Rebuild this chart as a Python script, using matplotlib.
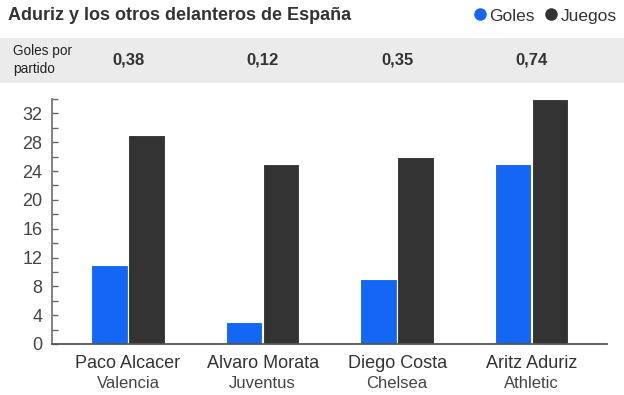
import numpy as np
import matplotlib
matplotlib.use("Agg")
import matplotlib.pyplot as plt
from matplotlib.patches import Rectangle
from matplotlib.lines import Line2D

plt.rcParams['font.family'] = ['Liberation Sans', 'DejaVu Sans']

# datos
jugadores = ["Paco Alcacer", "Alvaro Morata", "Diego Costa", "Aritz Aduriz"]
equipos = ["Valencia", "Juventus", "Chelsea", "Athletic"]
goles = [11, 3, 9, 25]
juegos = [29, 25, 26, 34]
goles_por_partido = ["0,38", "0,12", "0,35", "0,74"]

azul = "#1466f5"
negro = "#333333"
gris_txt = "#333333"

fig = plt.figure(figsize=(6.24, 3.95), dpi=100)
fig.patch.set_facecolor("white")

# franja gris de goles por partido
fig.patches.append(Rectangle((0, 1 - 83 / 395), 1, 45 / 395, transform=fig.transFigure,
                             facecolor="#ebebeb", edgecolor="none", zorder=-1))

ax = fig.add_axes([52 / 624, 1 - 344 / 395, 555 / 624, 245 / 395])

x = np.arange(len(jugadores))
ancho = 0.27
desp = 0.1375
ax.bar(x - desp, goles, ancho, color=azul, edgecolor="white", linewidth=0.8, zorder=2)
ax.bar(x + desp, juegos, ancho, color=negro, edgecolor="white", linewidth=0.8, zorder=2)

ax.set_xlim(-0.565, 3.56)
ax.set_ylim(0, 34)
ax.set_yticks(np.arange(0, 33, 4))
ax.set_yticks(np.arange(0, 35, 2), minor=True)
ax.tick_params(axis="y", which="both", direction="in", length=4, width=1, color="#666666",
               labelsize=13, labelcolor="#444444", pad=7)
ax.set_xticks(x)
ax.set_xticklabels(jugadores)
ax.tick_params(axis="x", length=0, labelsize=13, labelcolor=gris_txt, pad=8)

for s in ["top", "right"]:
    ax.spines[s].set_visible(False)
ax.spines["left"].set_color("#777777")
ax.spines["left"].set_linewidth(1.3)
ax.spines["bottom"].set_color("#555555")
ax.spines["bottom"].set_linewidth(1.3)

for i, eq in enumerate(equipos):
    ax.annotate(eq, xy=(x[i], 0), xycoords=("data", "axes fraction"),
                xytext=(0, -23), textcoords="offset points", annotation_clip=False,
                ha="center", va="top", fontsize=12, color="#444444")

# fila de goles por partido
for i, g in enumerate(goles_por_partido):
    ax.annotate(g, xy=(x[i], 1 - 60 / 395), xycoords=("data", "figure fraction"),
                annotation_clip=False,
                ha="center", va="center", fontsize=12, fontweight="bold", color=gris_txt)
fig.text(13 / 624, 1 - 60 / 395, "Goles por\npartido", ha="left", va="center",
         fontsize=9.8, color="#222222", linespacing=1.35)

fig.text(8 / 624, 1 - 16 / 395, "Aduriz y los otros delanteros de España",
         ha="left", va="center", fontsize=13, fontweight="bold", color=gris_txt)

handles = [Line2D([], [], marker="o", linestyle="none", color=azul, markersize=8),
           Line2D([], [], marker="o", linestyle="none", color=negro, markersize=8)]
fig.legend(handles, ["Goles", "Juegos"], loc="center right",
           bbox_to_anchor=(1.0, 1 - 16 / 395), ncol=2, frameon=False,
           fontsize=12.5, handlelength=0.7, handletextpad=0.2, columnspacing=0.6,
           borderaxespad=0.0, labelcolor=gris_txt)

fig.savefig("out.png", dpi=100)
